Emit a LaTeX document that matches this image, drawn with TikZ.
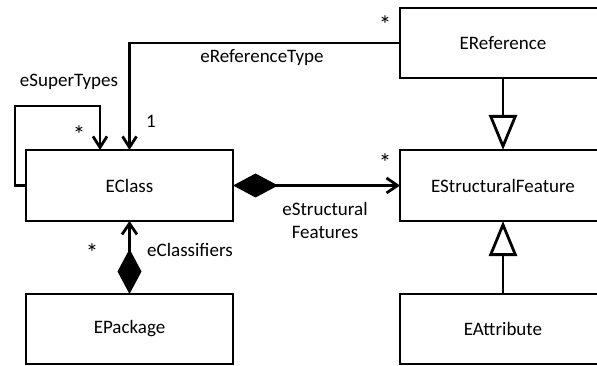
\documentclass[tikz,border=0pt]{standalone}
\usepackage{fontspec}
\setmainfont{Carlito}
\usetikzlibrary{arrows.meta}
\tikzset{
  cls/.style={draw, line width=2.8pt, minimum width=207pt, minimum height=71pt, inner sep=0pt, outer sep=0pt, font=\fontsize{19}{23}\selectfont},
  lbl/.style={inner sep=0pt, font=\fontsize{19}{23}\selectfont, align=center},
  mult/.style={inner sep=0pt, font=\fontsize{25}{28}\selectfont},
  conn/.style={line width=2.8pt},
  nav/.style={-{Straight Barb[length=11pt,width=14pt,line width=2.8pt]}},
  comp/.style={{Diamond[length=45pt,width=24pt]}-{Straight Barb[length=11pt,width=15pt,line width=2.8pt]}},
  gen/.style={-{Triangle[open,length=35pt,width=28pt,fill=white]}},
}
\begin{document}
\begin{tikzpicture}[x=1pt,y=-1pt]
\useasboundingbox (0,0) rectangle (597,366);
\clip (0,0) rectangle (597,366);
\node[cls] (eclass) at (129.5,185.5) {EClass};
\node[cls, minimum height=70pt] (epackage) at (129.5,329) {EPackage};
\node[cls, minimum width=206pt, minimum height=70pt] (eref) at (503,43) {EReference};
\node[cls, minimum width=206pt] (esf) at (503,185.5) {EStructuralFeature};
\node[cls, minimum width=206pt, minimum height=70pt] (eattr) at (503,329) {EAttribute};

% eReferenceType
\draw[conn,nav] (eref.west) -| (eclass.north);
% eSuperTypes self loop
\coordinate (stA) at (15,185.5);
\coordinate (stB) at (100,106);
\draw[conn,nav] (eclass.west) -- (stA) |- (stB) -- (stB |- eclass.north);
% eStructuralFeatures composition
\draw[conn,comp] (eclass.east) -- (esf.west);
% eClassifiers composition
\draw[conn,comp] (epackage.north) -- (eclass.south);
% generalizations
\draw[conn,gen] (eref.south) -- (esf.north);
\draw[conn,gen] (eattr.north) -- (esf.south);

% labels
\node[mult] (m1) at (385,25) {*};
\node[lbl] (lref) at (262,58) {eReferenceType};
\node[lbl] (m2) at (151,121) {1};
\node[lbl] (lsup) at (69,82) {eSuperTypes};
\node[mult] (m3) at (79,135) {*};
\node[mult] (m4) at (385,163) {*};
\node[lbl] (lsf) at (325,220) {eStructural\\Features};
\node[mult] (m5) at (92,253) {*};
\node[lbl] (lcl) at (190,250) {eClassifiers};
\end{tikzpicture}
\end{document}
